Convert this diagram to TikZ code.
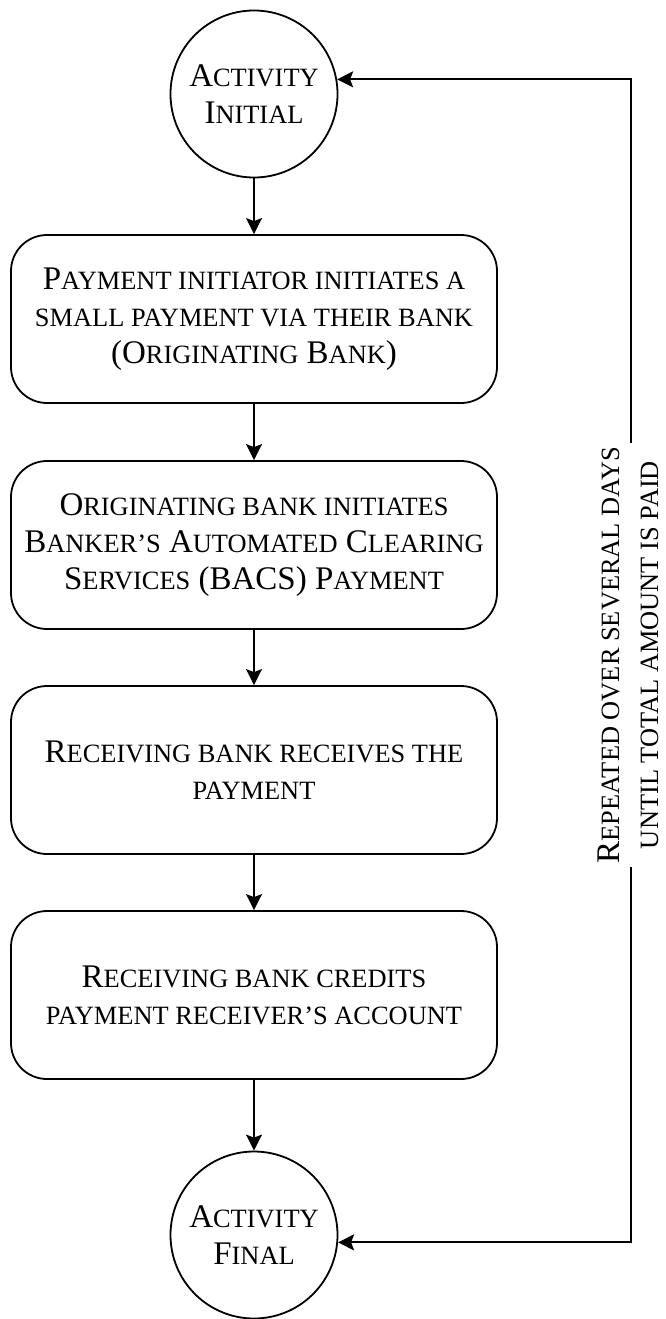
\documentclass[tikz,border=0pt]{standalone}
\usepackage{fontspec}
\setmainfont{Liberation Serif}
\usetikzlibrary{arrows.meta}
% small-capital letters set as reduced capitals
\newcommand\sk[1]{{\fontsize{26.4}{26.4}\selectfont #1}}
\begin{document}
\begin{tikzpicture}[x=1pt,y=-1pt,
  line width=1.8pt,
  txt/.style={font=\fontsize{33}{37}\selectfont, align=center},
  actnode/.style={txt, draw, circle, minimum size=167pt, inner sep=0pt},
  stepbox/.style={txt, draw, rounded corners=36pt, minimum width=486pt, minimum height=168pt, inner sep=0pt},
  flow/.style={-{Stealth[length=16pt,width=16pt,inset=3pt]}}]
\useasboundingbox (0,0) rectangle (665,1319);

\node[actnode] (init) at (254,94) {A\sk{CTIVITY}\\I\sk{NITIAL}};
\node[stepbox] (b1) at (254,319) {P\sk{AYMENT INITIATOR INITIATES A}\\\sk{SMALL PAYMENT VIA THEIR BANK}\\(O\sk{RIGINATING} B\sk{ANK})};
\node[stepbox] (b2) at (254,545) {O\sk{RIGINATING BANK INITIATES}\\B\sk{ANKER’S} A\sk{UTOMATED} C\sk{LEARING}\\S\sk{ERVICES} (BACS) P\sk{AYMENT}};
\node[stepbox] (b3) at (254,770) {R\sk{ECEIVING BANK RECEIVES THE}\\\sk{PAYMENT}};
\node[stepbox] (b4) at (254,995) {R\sk{ECEIVING BANK CREDITS}\\\sk{PAYMENT RECEIVER’S ACCOUNT}};
\node[actnode] (fin) at (254,1235) {A\sk{CTIVITY}\\F\sk{INAL}};

% loop label on the return line
\node[txt, rotate=90, inner sep=0pt, font=\fontsize{33}{39}\selectfont] (rep) at (628,655) {R\sk{EPEATED OVER SEVERAL DAYS}\\\sk{UNTIL TOTAL AMOUNT IS PAID}};
\coordinate (ltop) at (631,443);
\coordinate (lbot) at (631,867);

\draw[flow] (init) -- (b1);
\draw[flow] (b1) -- (b2);
\draw[flow] (b2) -- (b3);
\draw[flow] (b3) -- (b4);
\draw[flow] (b4) -- (fin);
\draw[flow] (ltop) |- (init.10);
\draw[flow] (lbot) |- (fin.-5);
\end{tikzpicture}
\end{document}
